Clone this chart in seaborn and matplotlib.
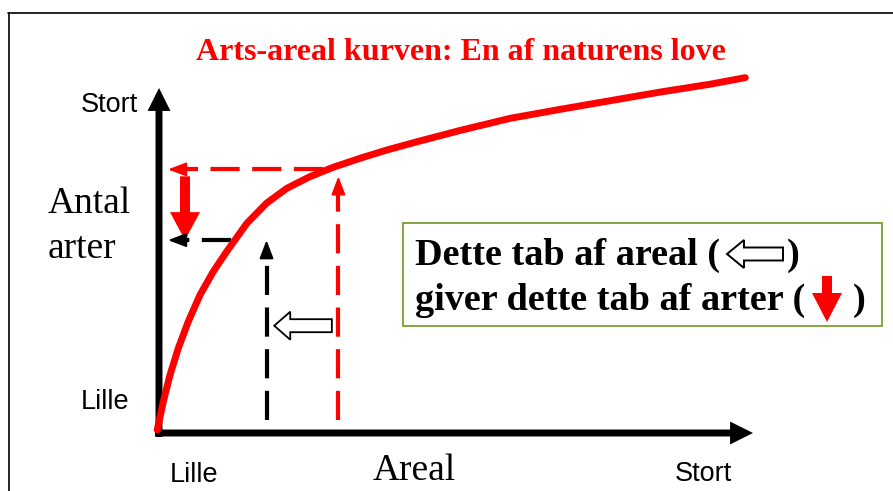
import numpy as np
import pandas as pd
import seaborn as sns
import matplotlib.pyplot as plt
from matplotlib.patches import FancyArrow, Rectangle

# curve (arbitrary units, 0-100 on both axes)
area = [-0.3, 0.72, 1.85, 3.25, 4.93, 6.9, 9.14, 11.4, 14.8, 18.1, 21.5,
        25.4, 29.3, 33.8, 38.3, 43.4, 50.7, 59.1, 67.5, 75.9, 84.3, 92.8, 98.7]
species = [0.9, 9.07, 16.8, 24.6, 32.3, 40.0, 46.8, 52.6, 60.8, 66.6, 70.9,
           74.3, 77.0, 79.6, 82.0, 84.4, 87.7, 91.2, 93.8, 96.3, 98.8, 101.1, 103.0]

# before / after habitat loss
area_before, species_before = 30.2, 76.4
area_after, species_after = 18.1, 55.9

title = "Arts-areal kurven: En af naturens love"
box_lines = ["Dette tab af areal (", "giver dette tab af arter ("]

sns.set_theme(style="white")
plt.rcParams['font.family'] = ['Liberation Sans', 'DejaVu Sans']
plt.rcParams['text.color'] = 'black'

W, H = 893, 491
fig = plt.figure(figsize=(W / 100, H / 100), dpi=100)

# pixel positions of the axis origin and the two arrow tips
ox, oy, tx, ty = 159, 433, 753, 88
ax = fig.add_axes([ox / W, 1 - oy / H, (tx - ox) / W, (oy - ty) / H], zorder=2)
ov = fig.add_axes([0, 0, 1, 1], zorder=1)
ov.set_xlim(0, W)
ov.set_ylim(H, 0)
ov.axis('off')

xpx = (tx - ox) / 100  # pixels per x unit
ypx = (oy - ty) / 100  # pixels per y unit

df = pd.DataFrame({'area': area, 'species': species})
sns.lineplot(data=df, x='area', y='species', sort=False, estimator=None,
             color='#ff0000', lw=5, ax=ax, zorder=10)
ax.lines[0].set_clip_on(False)
ax.lines[0].set_solid_capstyle('round')
ax.lines[0].set_solid_joinstyle('round')
ax.set_xlim(0, 100)
ax.set_ylim(0, 100)
ax.axis('off')

# axes drawn as thick arrows
ax_arrow = dict(arrowstyle='simple,head_length=1.65,head_width=1.65,tail_width=0.5',
                mutation_scale=10, color='black', lw=0, shrinkA=0, shrinkB=0)
ax.annotate('', xy=(100, 0), xytext=(-4 / xpx, 0), arrowprops=ax_arrow,
            annotation_clip=False)
ax.annotate('', xy=(0, 100), xytext=(0, -4 / ypx), arrowprops=ax_arrow,
            annotation_clip=False)


def dashed_arrow(x0, y0, x1, y1, color, back):
    # dashed shaft that stops at the head, then a small solid head
    if x0 == x1:
        ax.plot([x0, x1], [y0, y1 - 8 / ypx], color=color, lw=3,
                ls=(0, (7, 3)), dash_capstyle='butt', clip_on=False)
    else:
        ax.plot([x0, x1 + 8 / xpx], [y0, y1], color=color, lw=3,
                ls=(0, (7, 3)), dash_capstyle='butt', clip_on=False)
    ax.annotate('', xy=(x1, y1), xytext=back, textcoords='offset points',
                arrowprops=dict(arrowstyle='-|>,head_length=1.1,head_width=0.42',
                                mutation_scale=10, color=color, lw=1.5,
                                shrinkA=0, shrinkB=0),
                annotation_clip=False)


base = 13 / ypx
tip_x = 9 / xpx
# before loss (red) and after loss (black)
dashed_arrow(area_before, base, area_before, species_before - 2, '#ff0000', (0, -12))
dashed_arrow(np.interp(species_before, species, area) - 0.8, species_before,
             tip_x, species_before, '#ff0000', (12, 0))
dashed_arrow(area_after, base, area_after, species_after, 'black', (0, -12))
dashed_arrow(np.interp(species_after, species, area) - 0.7, species_after,
             tip_x, species_after, 'black', (12, 0))

# loss of species: thick red arrow
ax.add_patch(FancyArrow(26 / xpx, species_before - 2, 0, species_after - species_before + 2,
                        width=10 / xpx, head_width=30 / xpx, head_length=28 / ypx,
                        length_includes_head=True, fc='#ff0000', ec='none', lw=0,
                        clip_on=False))
# loss of area: hollow arrow
ax.add_patch(FancyArrow(area_before - 1.1, 31.1, area_after - area_before + 2.4, 0,
                        width=13 / ypx, head_width=28 / ypx, head_length=16 / xpx,
                        length_includes_head=True, fc='white', ec='black', lw=1.3,
                        clip_on=False, zorder=5))

# frame of the slide
ov.plot([8, W], [13.3, 13.3], color='black', lw=1.2)
ov.plot([9, 9], [13.3, H], color='black', lw=1.2)

ov.text(461, 60, title, color='#ff0000', fontsize=23, fontweight='bold',
        family='Liberation Serif', ha='center', va='baseline')

ov.text(138, 112, 'Stort', fontsize=19.5, ha='right', va='baseline')
ov.text(129, 409, 'Lille', fontsize=19.5, ha='right', va='baseline')
ov.text(170, 482, 'Lille', fontsize=19.5, ha='left', va='baseline')
ov.text(675, 481, 'Stort', fontsize=19.5, ha='left', va='baseline')
ov.text(48, 213, 'Antal', fontsize=27, family='Liberation Serif', va='baseline')
ov.text(48, 258, 'arter', fontsize=27, family='Liberation Serif', va='baseline')
ov.text(373, 480, 'Areal', fontsize=27, family='Liberation Serif', va='baseline')

# explanation box
ov.add_patch(Rectangle((402.7, 222.7), 479, 103.3, fc='white', ec='#77a030', lw=1.3))
ov.text(415, 265, box_lines[0], fontsize=27.5, fontweight='bold',
        family='Liberation Serif', va='baseline')
ov.text(787, 265, ')', fontsize=27.5, fontweight='bold',
        family='Liberation Serif', va='baseline')
ov.text(415, 310, box_lines[1], fontsize=27.5, fontweight='bold',
        family='Liberation Serif', va='baseline')
ov.text(853, 310, ')', fontsize=27.5, fontweight='bold',
        family='Liberation Serif', va='baseline')
ov.add_patch(FancyArrow(783, 254, -56, 0, width=13, head_width=28, head_length=17,
                        length_includes_head=True, fc='white', ec='black', lw=1.4))
ov.add_patch(FancyArrow(827, 276, 0, 46, width=10, head_width=30, head_length=29,
                        length_includes_head=True, fc='#ff0000', ec='none', lw=0))

fig.savefig('out.png', dpi=100)
